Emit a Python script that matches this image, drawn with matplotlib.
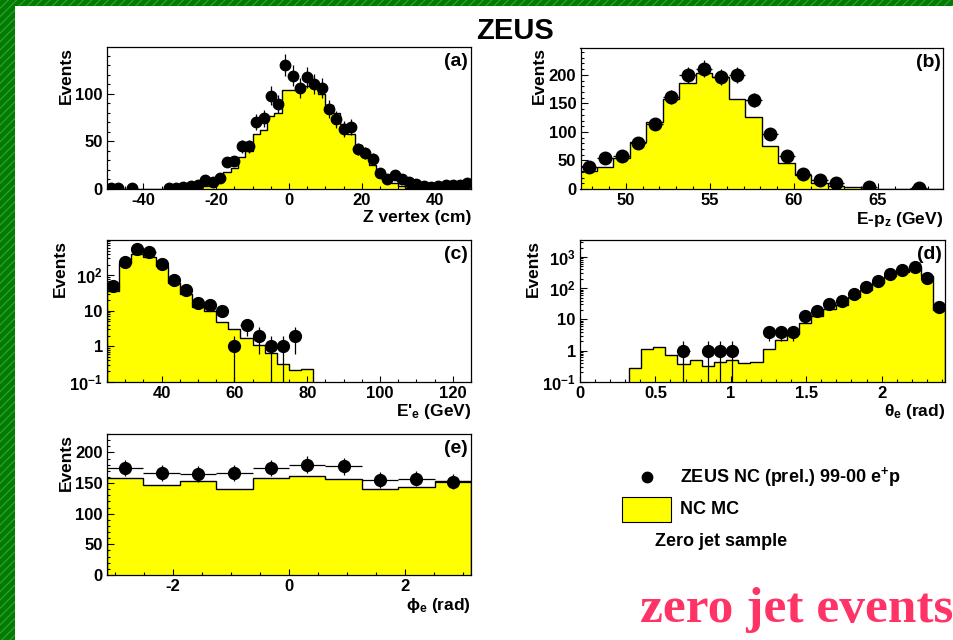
import matplotlib.pyplot as plt
import numpy as np
from matplotlib.patches import Rectangle
from matplotlib.lines import Line2D
from matplotlib.ticker import MultipleLocator, FixedLocator, FixedFormatter, LogLocator, NullFormatter

plt.rcParams['font.family'] = ['Liberation Sans', 'DejaVu Sans']
plt.rcParams['font.weight'] = 'bold'
plt.rcParams['axes.labelweight'] = 'bold'
plt.rcParams['axes.unicode_minus'] = False
plt.rcParams['mathtext.fontset'] = 'custom'
plt.rcParams['mathtext.rm'] = 'Liberation Sans:bold'
plt.rcParams['mathtext.it'] = 'Liberation Sans:bold'
plt.rcParams['mathtext.bf'] = 'Liberation Sans:bold'
plt.rcParams['hatch.linewidth'] = 0.8

YELLOW = '#ffff00'
TICK_FS = 12
LABEL_FS = 12.5

# (a) Z vertex, 2 cm bins
zvtx_edges = np.linspace(-50, 50, 51)
zvtx_data = [1, 1, 0, 1, 0, 0, 0, 0, 1, 1,
             2, 3, 4, 9, 7, 12, 28, 29, 45, 45,
             70, 74, 98, 89, 130, 119, 106, 117, 110, 106,
             84, 73, 63, 65, 42, 38, 32, 17, 10, 15,
             10, 7, 5, 3, 2, 3, 4, 4, 4, 6]
zvtx_mc = [0, 0, 0, 0, 0, 0, 0, 0, 0, 0,
           0, 0, 1, 3, 6, 10, 18, 22, 34, 40,
           58, 62, 77, 80, 104, 104, 104, 108, 106, 100,
           88, 80, 68, 58, 46, 36, 25, 16, 9, 6,
           3, 1.5, 0.5, 0, 0, 0, 0, 0, 0, 0]

# (b) E-pz
epz_edges = np.linspace(47.3, 68.9, 23)
epz_data = [39, 54, 58, 81, 114, 161, 200, 211, 196, 200, 156,
            96, 58, 26, 16, 10, 0, 4, 0, 0, 2, 0]
epz_mc = [31, 39, 54, 82, 118, 157, 185, 204, 196, 158, 126,
          76, 46, 25, 11, 5, 4, 0, 0, 0, 0, 0]

# (c) scattered electron energy, 30 bins 25-125 GeV
ee_edges = np.linspace(25, 125, 31)
ee_data = [49, 235, 535, 450, 210, 76, 38, 17, 15, 10,
           1, 4, 2, 1, 1, 2, 0, 0, 0, 0,
           0, 0, 0, 0, 0, 0, 0, 0, 0, 0]
ee_mc = [36, 228, 410, 330, 183, 62, 29, 12.7, 9.8, 4.9,
         3.1, 1.7, 1.05, 0.65, 0.32, 0.21, 0.23, 0, 0, 0,
         0, 0, 0, 0, 0, 0, 0, 0, 0, 0]

# (d) electron polar angle
theta_edges = np.linspace(0, 2.42, 31)
theta_data = [0, 0, 0, 0, 0, 0, 0, 0, 1, 0,
              1, 1, 1, 0, 0, 4, 4, 4, 13, 19,
              32, 40, 64, 107, 174, 280, 390, 470, 212, 24]
theta_mc = [0, 0, 0, 0, 0.28, 1.12, 1.32, 0.72, 0.36, 0.51,
            0.33, 0.44, 0.48, 0.41, 0.44, 1.13, 2.1, 3.3, 7.6, 13,
            22, 29, 53, 89, 146, 240, 335, 490, 240, 20]

# (e) electron azimuth
phi_edges = np.linspace(-np.pi, np.pi, 11)
phi_data = [175, 167, 165, 166, 174, 180, 177, 155, 157, 152]
phi_mc = [159, 146, 153, 140, 159, 161, 157, 141, 143, 153]

W, H = 954, 640
fig = plt.figure(figsize=(W / 100, H / 100), dpi=100)


def px_axes(left, top, right, bottom):
    return fig.add_axes([left / W, 1 - bottom / H, (right - left) / W, (bottom - top) / H])


def draw_panel(ax, edges, data, mc, log=False, ms=8):
    edges = np.asarray(edges)
    data = np.asarray(data, dtype=float)
    mc = np.asarray(mc, dtype=float)
    centers = 0.5 * (edges[:-1] + edges[1:])
    half = 0.5 * np.diff(edges)
    base = 0
    if log:
        base = 1e-4
        mc = np.where(mc > 0, mc, base)
    ax.stairs(mc, edges, fill=True, color=YELLOW, baseline=base, zorder=1)
    ax.stairs(mc, edges, color='black', lw=1.0, baseline=base, zorder=2)
    sel = data > 0
    err = np.sqrt(data[sel])
    lo = np.minimum(err, data[sel] - 1e-4) if log else err
    ax.errorbar(centers[sel], data[sel], yerr=[lo, err], xerr=half[sel],
                fmt='o', color='black', ms=ms, elinewidth=0.9, capsize=0, zorder=3)
    ax.set_xlim(edges[0], edges[-1])
    if log:
        ax.set_yscale('log')
        ax.yaxis.set_minor_locator(LogLocator(base=10, subs=np.arange(2, 10)))
        ax.yaxis.set_minor_formatter(NullFormatter())
    ax.tick_params(which='both', direction='in', top=False, right=False,
                   labelsize=TICK_FS, pad=3, width=0.8)
    ax.tick_params(axis='y', which='major', length=5)
    ax.tick_params(axis='y', which='minor', length=2.5)
    ax.tick_params(axis='x', which='major', length=4)
    ax.tick_params(axis='x', which='minor', length=2)
    for s in ax.spines.values():
        s.set_linewidth(0.9)
    ax.set_ylabel('Events', loc='top', fontsize=LABEL_FS, labelpad=1)


def log_ticks(ax, values, labels):
    ax.yaxis.set_major_locator(FixedLocator(values))
    ax.yaxis.set_major_formatter(FixedFormatter(labels))


def tag(ax, s):
    ax.text(0.992, 0.955, s, transform=ax.transAxes, ha='right', va='top',
            fontsize=14, weight='bold')


# (a)
ax = px_axes(107, 47, 471, 189)
draw_panel(ax, zvtx_edges, zvtx_data, zvtx_mc, ms=7.5)
ax.set_ylim(0, 149)
ax.xaxis.set_major_locator(MultipleLocator(20))
ax.xaxis.set_minor_locator(MultipleLocator(5))
ax.yaxis.set_major_locator(MultipleLocator(50))
ax.yaxis.set_minor_locator(MultipleLocator(10))
ax.set_xlabel('Z vertex (cm)', loc='right', fontsize=LABEL_FS, labelpad=1)
tag(ax, '(a)')

# (b)
ax = px_axes(580.5, 47.5, 943.5, 189)
draw_panel(ax, epz_edges, epz_data, epz_mc, ms=9)
ax.set_ylim(0, 248)
ax.xaxis.set_major_locator(MultipleLocator(5))
ax.xaxis.set_minor_locator(MultipleLocator(1))
ax.yaxis.set_major_locator(MultipleLocator(50))
ax.yaxis.set_minor_locator(MultipleLocator(10))
ax.set_xlabel('E-p$_z$ (GeV)', loc='right', fontsize=LABEL_FS, labelpad=1)
tag(ax, '(b)')

# (c)
ax = px_axes(107, 240, 471, 381.7)
draw_panel(ax, ee_edges, ee_data, ee_mc, log=True, ms=8.5)
ax.set_ylim(0.1, 990)
log_ticks(ax, [0.1, 1, 10, 100], ['$10^{-1}$', '1', '10', '$10^{2}$'])
ax.xaxis.set_major_locator(MultipleLocator(20))
ax.xaxis.set_minor_locator(MultipleLocator(5))
ax.set_xlabel("E$'_e$ (GeV)", loc='right', fontsize=LABEL_FS, labelpad=1)
tag(ax, '(c)')

# (d)
ax = px_axes(580, 240, 945, 381.7)
draw_panel(ax, theta_edges, theta_data, theta_mc, log=True, ms=8.5)
ax.set_ylim(0.1, 3500)
log_ticks(ax, [0.1, 1, 10, 100, 1000],
          ['$10^{-1}$', '1', '10', '$10^{2}$', '$10^{3}$'])
ax.xaxis.set_major_locator(MultipleLocator(0.5))
ax.xaxis.set_minor_locator(MultipleLocator(0.1))
ax.xaxis.set_major_formatter(plt.FuncFormatter(lambda v, p: f'{v:g}'))
ax.set_xlabel(r'$\theta_e$ (rad)', loc='right', fontsize=LABEL_FS, labelpad=1)
tag(ax, '(d)')

# (e)
ax = px_axes(107, 434, 471, 575)
draw_panel(ax, phi_edges, phi_data, phi_mc, ms=8.5)
ax.set_ylim(0, 230)
ax.xaxis.set_major_locator(MultipleLocator(2))
ax.xaxis.set_minor_locator(MultipleLocator(0.5))
ax.yaxis.set_major_locator(MultipleLocator(50))
ax.yaxis.set_minor_locator(MultipleLocator(10))
ax.set_xlabel(r'$\phi_e$ (rad)', loc='right', fontsize=LABEL_FS, labelpad=1)
tag(ax, '(e)')

# legend
fig.add_artist(Line2D([647 / W], [1 - 477 / H], marker='o', color='black', ms=7.5,
                      transform=fig.transFigure))
fig.text(680 / W, 1 - 477 / H, 'ZEUS NC (prel.) 99-00 e$^{+}$p', fontsize=13,
         va='center', ha='left')
fig.add_artist(Rectangle((622 / W, 1 - 522 / H), 49 / W, 25 / H, transform=fig.transFigure,
                         facecolor=YELLOW, edgecolor='black', lw=0.8))
fig.text(680 / W, 1 - 510 / H, 'NC MC', fontsize=13, va='center', ha='left')
fig.text(655 / W, 1 - 541 / H, 'Zero jet sample', fontsize=13, va='center', ha='left')

fig.text(515 / W, 1 - 31 / H, 'ZEUS', fontsize=21, weight='bold', ha='center', va='center')

fig.text(640 / W, 1 - 622 / H, 'zero jet events', fontsize=37, weight='bold',
         family='Liberation Serif', color='#ff3366', ha='left', va='baseline')

# green slide border
fig.add_artist(Rectangle((0, 0), 15 / W, 1, transform=fig.transFigure,
                         facecolor='#007d00', edgecolor='#3c9c3c', hatch='////', lw=0))
fig.add_artist(Rectangle((0, 1 - 6 / H), 1, 6 / H, transform=fig.transFigure,
                         facecolor='#007d00', edgecolor='#3c9c3c', hatch='////', lw=0))

fig.savefig('out.png', dpi=100)
